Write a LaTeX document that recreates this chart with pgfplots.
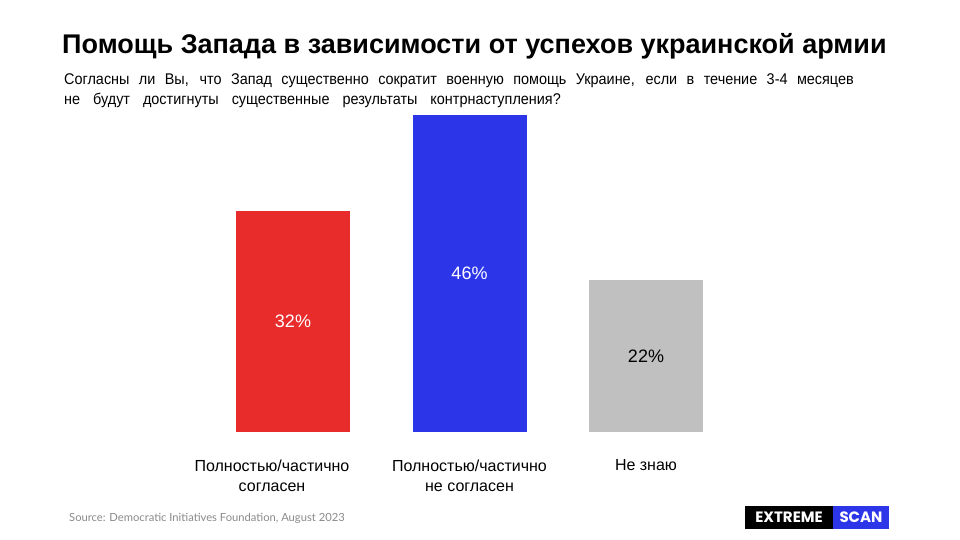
\documentclass[border=0pt]{standalone}
\usepackage{pgfplots}
\pgfplotsset{compat=1.18}
\usepackage{fontspec}
\setmainfont{Liberation Sans}
\newfontfamily\logofont{Poppins}
\newfontfamily\srcfont{Lato}
\definecolor{cred}{HTML}{E82C2C}
\definecolor{cblue}{HTML}{2D35E8}
\definecolor{cgrey}{HTML}{C0C0C0}
\definecolor{srcgrey}{HTML}{8A8A8A}
\begin{document}
\begin{tikzpicture}
\path[use as bounding box, fill=white] (0pt,0pt) rectangle (960pt,540pt);
\node[anchor=base west, inner sep=0pt, font=\bfseries\fontsize{27}{32}\selectfont] at (62pt,486pt) {Помощь Запада в зависимости от успехов украинской армии};
\node[anchor=base west, inner sep=0pt, font=\fontsize{15.5}{19}\selectfont] at (64pt,455pt) {\scalebox{0.93}[1]{\makebox[849pt][s]{Согласны ли Вы, что Запад существенно сократит военную помощь Украине, если в течение 3-4 месяцев}}};
\node[anchor=base west, inner sep=0pt, font=\fontsize{15.5}{19}\selectfont] at (64pt,435pt) {\scalebox{0.93}[1]{\makebox[534pt][s]{не будут достигнуты существенные результаты контрнаступления?}}};
\begin{axis}[
  at={(204.75pt,108pt)}, anchor=south west,
  scale only axis, width=529.5pt, height=317pt,
  xmin=-0.5, xmax=2.5, ymin=0, ymax=46,
  axis line style={draw=none}, major tick length=0pt,
  ytick=\empty,
  xtick={-0.119,1,2},
  xticklabels={{Полностью/частично\\согласен},{Полностью/частично\\не согласен},{Не знаю}},
  xticklabel style={align=center, font=\fontsize{16}{20}\selectfont, yshift=-24pt},
  ybar, bar width=114pt, bar shift=0pt,
  clip=false,
  /pgf/number format/assume math mode=true,
]
\addplot[fill=cred, draw=none] coordinates {(0,32)};
\addplot[fill=cblue, draw=none] coordinates {(1,46)};
\addplot[fill=cgrey, draw=none] coordinates {(2,22)};
\addplot[draw=none, mark=none, nodes near coords={\pgfmathprintnumber{\pgfplotspointmeta}\%}, point meta=explicit,
  every node near coord/.append style={anchor=center, text=white, font=\fontsize{18}{20}\selectfont}]
  coordinates {(0,16) [32] (1,23) [46]};
\addplot[draw=none, mark=none, nodes near coords={\pgfmathprintnumber{\pgfplotspointmeta}\%}, point meta=explicit,
  every node near coord/.append style={anchor=center, text=black, font=\fontsize{18}{20}\selectfont}]
  coordinates {(2,11) [22]};
\end{axis}
\node[anchor=west, inner sep=0pt, text=srcgrey, font=\srcfont\fontsize{11.2}{13}\selectfont] at (69pt,22pt) {Source: Democratic Initiatives Foundation, August 2023};
\fill[black] (745pt,11pt) rectangle (833pt,34pt);
\fill[cblue] (833pt,11pt) rectangle (889pt,34pt);
\node[text=white, font=\logofont\bfseries\fontsize{15}{17}\selectfont] at (789pt,22.5pt) {EXTREME};
\node[text=white, font=\logofont\bfseries\fontsize{15}{17}\selectfont] at (861pt,22.5pt) {SCAN};
\end{tikzpicture}
\end{document}
